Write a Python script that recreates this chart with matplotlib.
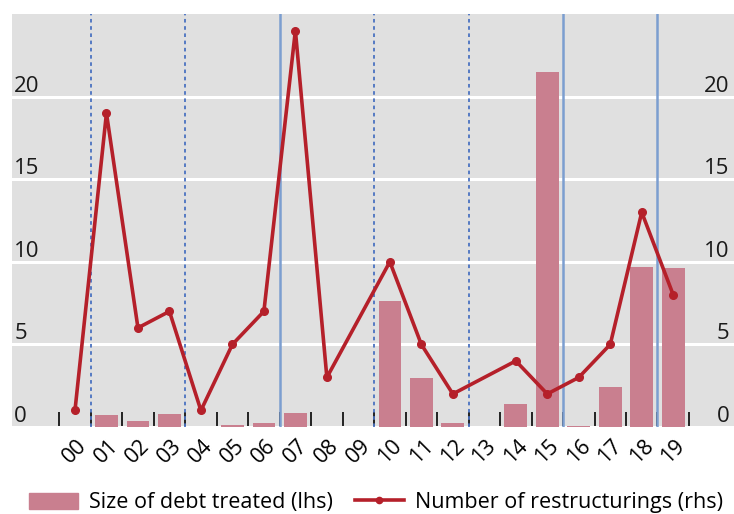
import numpy as np
import pandas as pd
import matplotlib
matplotlib.use("Agg")
import matplotlib.pyplot as plt
import matplotlib.transforms as mtransforms
from matplotlib.patches import Patch
from matplotlib.lines import Line2D

# data
years = ["00", "01", "02", "03", "04", "05", "06", "07", "08", "09",
         "10", "11", "12", "13", "14", "15", "16", "17", "18", "19"]
debt_treated = [0, 0.7, 0.35, 0.8, 0, 0.1, 0.25, 0.85, 0, 0,
                7.6, 2.95, 0.25, 0, 1.4, 21.5, 0.05, 2.4, 9.7, 9.6]
restructurings = [1, 19, 6, 7, 1, 5, 7, 24, 3, np.nan,
                  10, 5, 2, np.nan, 4, 2, 3, 5, 13, 8]
dotted_at = [0.5, 3.5, 9.5, 12.5]
solid_at = [6.5, 15.5, 18.5]
yticks = [0, 5, 10, 15, 20]

plt.rcParams['font.family'] = ['Open Sans', 'DejaVu Sans']

bar_col = '#C97F8F'
line_col = '#B5202A'
bg_col = '#E0E0E0'

fig = plt.figure(figsize=(7.34, 5.14), dpi=100)
ax = fig.add_axes([12/734, 87/514, 722/734, 413/514])
ax.set_facecolor(bg_col)
for s in ax.spines.values():
    s.set_visible(False)

x = np.arange(len(years))
ax.bar(x, debt_treated, width=0.72, color=bar_col, zorder=2)

for v in dotted_at:
    ax.axvline(v, color='#4A72C0', lw=1.3, ls=(0, (2, 2)), zorder=1.5)
for v in solid_at:
    ax.axvline(v, color='#7C9ED0', lw=1.8, zorder=1.5)

ax.set_xlim(-2, 20.93)
ax.set_ylim(0, 25)
ax.set_yticks(yticks)
ax.set_yticklabels([])
ax.yaxis.grid(True, color='white', lw=2.2, zorder=1)
ax.set_axisbelow(True)
ax.tick_params(axis='y', length=0)

# value labels sit inside the plot, just above each gridline (lhs and rhs)
up = mtransforms.ScaledTranslation(0, 5/100, fig.dpi_scale_trans)
tr = mtransforms.blended_transform_factory(ax.transAxes, ax.transData) + up
for t in yticks:
    ax.text(0.003, t, str(t), transform=tr, ha='left', va='baseline', fontsize=16, color='#1a1a1a')
    ax.text(0.994, t, str(t), transform=tr, ha='right', va='baseline', fontsize=16, color='#1a1a1a')

ax.set_xticks(x)
ax.set_xticklabels(years, rotation=45, ha='center', fontsize=15.5)
ax.tick_params(axis='x', length=0, pad=6)
ax.set_xticks(np.arange(-0.5, len(years)), minor=True)
ax.tick_params(axis='x', which='minor', direction='in', length=11, width=1.4, color='#222222')

ser = pd.Series(restructurings, index=x).dropna()
ax.plot(ser.index, ser.values, color=line_col, lw=2.6, marker='o', ms=5.5, zorder=5)

handles = [Patch(color=bar_col),
           Line2D([], [], color=line_col, lw=2.6, marker='o', ms=4.5)]
fig.legend(handles, ['Size of debt treated (lhs)', 'Number of restructurings (rhs)'],
           loc='lower center', bbox_to_anchor=(0.512, -0.036), ncol=2, frameon=False,
           fontsize=15.5, handlelength=2.3, handleheight=0.75, columnspacing=1.0, handletextpad=0.5)

fig.savefig('out.png', dpi=100)
